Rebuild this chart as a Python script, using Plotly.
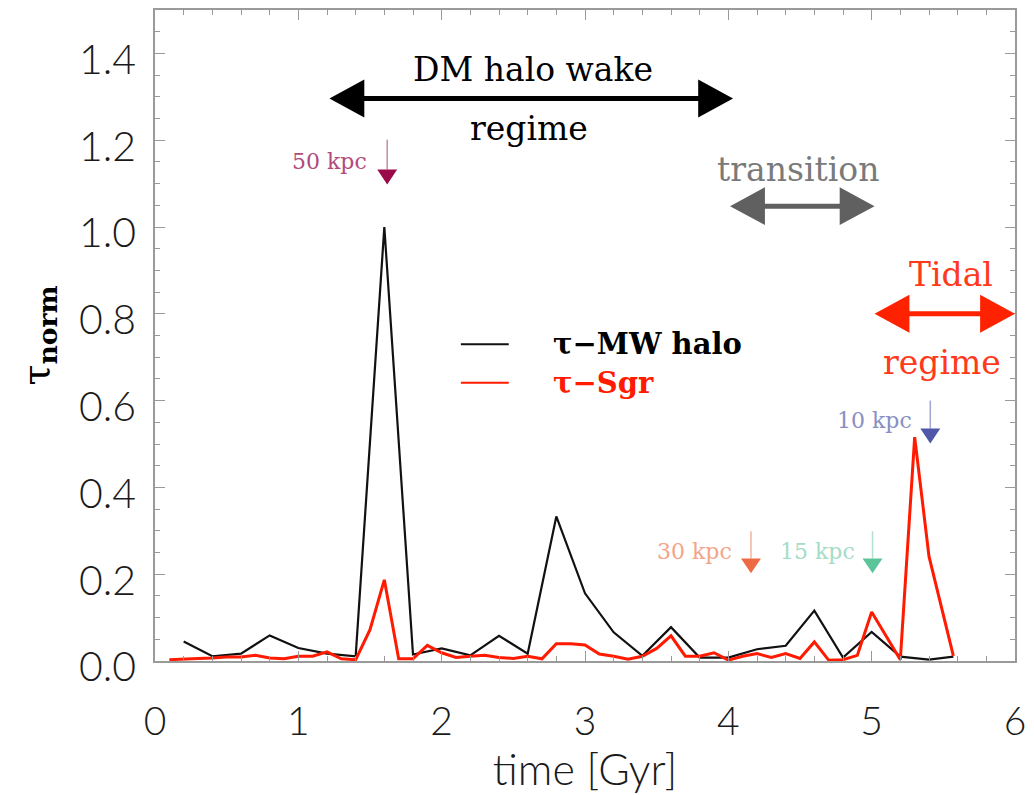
import plotly.graph_objects as go

# ---------------- data ----------------
t_mw = [0.2, 0.4, 0.6, 0.8, 1.0, 1.2, 1.4, 1.6, 1.8, 2.0, 2.2, 2.4, 2.6, 2.8,
        3.0, 3.2, 3.4, 3.6, 3.8, 4.0, 4.2, 4.4, 4.6, 4.8, 5.0, 5.2, 5.4, 5.57]
tau_mw = [0.045, 0.011, 0.017, 0.059, 0.030, 0.017, 0.011, 1.0, 0.015, 0.029,
          0.013, 0.058, 0.017, 0.333, 0.156, 0.066, 0.012, 0.078, 0.008, 0.008,
          0.027, 0.035, 0.116, 0.008, 0.067, 0.010, 0.003, 0.010]

t_sgr = [0.1, 0.2, 0.3, 0.4, 0.5, 0.6, 0.7, 0.8, 0.9, 1.0, 1.1, 1.2, 1.3, 1.4,
         1.5, 1.6, 1.7, 1.8, 1.9, 2.0, 2.1, 2.2, 2.3, 2.4, 2.5, 2.6, 2.7, 2.8,
         2.9, 3.0, 3.1, 3.2, 3.3, 3.4, 3.5, 3.6, 3.7, 3.8, 3.9, 4.0, 4.1, 4.2,
         4.3, 4.4, 4.5, 4.6, 4.7, 4.8, 4.9, 5.0, 5.2, 5.3, 5.4, 5.57]
tau_sgr = [0.003, 0.005, 0.006, 0.007, 0.009, 0.009, 0.013, 0.007, 0.005, 0.011,
           0.011, 0.021, 0.005, 0.003, 0.072, 0.187, 0.005, 0.005, 0.036, 0.019,
           0.008, 0.011, 0.013, 0.008, 0.006, 0.011, 0.005, 0.040, 0.040, 0.037,
           0.016, 0.011, 0.004, 0.011, 0.029, 0.058, 0.011, 0.011, 0.019, 0.002,
           0.011, 0.017, 0.008, 0.017, 0.006, 0.044, 0.002, 0.003, 0.013, 0.113,
           0.003, 0.516, 0.241, 0.012]

x_ticks = [0, 1, 2, 3, 4, 5, 6]
y_ticks = [0.0, 0.2, 0.4, 0.6, 0.8, 1.0, 1.2, 1.4]
y_tick_labels = ["0.0", "0.2", "0.4", "0.6", "0.8", "1.0", "1.2", "1.4"]

# regime arrows: (x_start, x_end, y, colour)
regimes = [
    (1.217, 4.033, 1.296, "#000000"),
    (4.012, 5.02, 1.048, "#606060"),
    (5.02, 6.0, 0.80, "#ff2200"),
]
regime_texts = [
    ("DM halo wake", 2.635, 1.362, "#000000"),
    ("regime", 2.607, 1.227, "#000000"),
    ("transition", 4.484, 1.133, "#7a7a7a"),
    ("Tidal", 5.555, 0.891, "#ff3a1a"),
    ("regime", 5.493, 0.687, "#ff3a1a"),
]
# distance markers: label, text x, text y, arrow x, tip y, top y, text col, stem col, head col
markers = [
    ("50 kpc", 1.217, 1.151, 1.62, 1.098, 1.201, "#b24a7c", "#c98aa6", "#9b0a48"),
    ("30 kpc", 3.761, 0.253, 4.158, 0.202, 0.299, "#f4a488", "#f3b39e", "#ee6a45"),
    ("15 kpc", 4.624, 0.253, 5.006, 0.202, 0.299, "#a6dcc6", "#b3e0cf", "#5cc49a"),
    ("10 kpc", 5.02, 0.554, 5.409, 0.501, 0.600, "#878fc4", "#a0a6d0", "#5056a8"),
]

# ---------------- layout geometry ----------------
W, H = 1034, 795
ML, MR, MT, MB = 155, 16, 8, 134
XR = (0, 6)
YR = (0, 1.5)
PX_X = (W - ML - MR) / (XR[1] - XR[0])
PX_Y = (H - MT - MB) / (YR[1] - YR[0])

fig = go.Figure()
fig.add_trace(go.Scatter(x=t_mw, y=tau_mw, mode="lines", name="τ−MW halo",
                         line=dict(color="#111111", width=2.2), showlegend=False))
fig.add_trace(go.Scatter(x=t_sgr, y=tau_sgr, mode="lines", name="τ−Sgr",
                         line=dict(color="#ff1a00", width=3), showlegend=False))

shapes = []
annots = []


def tri(p1, p2, p3, color):
    return dict(type="path", xref="x", yref="y", layer="above",
                path=f"M{p1[0]},{p1[1]} L{p2[0]},{p2[1]} L{p3[0]},{p3[1]} Z",
                fillcolor=color, line=dict(color=color, width=0))


# double-headed regime arrows
for x0, x1, y, col in regimes:
    hl = 35 / PX_X
    hh = 19 / PX_Y
    shapes.append(dict(type="line", xref="x", yref="y", layer="above",
                       x0=x0 + hl * 0.6, x1=x1 - hl * 0.6, y0=y, y1=y,
                       line=dict(color=col, width=5)))
    shapes.append(tri((x0, y), (x0 + hl, y + hh), (x0 + hl, y - hh), col))
    shapes.append(tri((x1, y), (x1 - hl, y + hh), (x1 - hl, y - hh), col))

for txt, x, y, col in regime_texts:
    annots.append(dict(text=txt, x=x, y=y, xref="x", yref="y", showarrow=False,
                       font=dict(family="DejaVu Serif", size=33, color=col)))

for lab, tx, ty, ax, tip, top, tcol, scol, hcol in markers:
    hl = 15 / PX_Y
    hw = 10 / PX_X
    shapes.append(dict(type="line", xref="x", yref="y", layer="above",
                       x0=ax, x1=ax, y0=top, y1=tip + hl,
                       line=dict(color=scol, width=1.5)))
    shapes.append(tri((ax, tip), (ax - hw, tip + hl), (ax + hw, tip + hl), hcol))
    annots.append(dict(text=lab, x=tx, y=ty, xref="x", yref="y", showarrow=False,
                       font=dict(family="DejaVu Serif", size=22, color=tcol)))

# manual legend
leg = [("τ−MW halo", 0.730, "#111111", "#000000"),
       ("τ−Sgr", 0.641, "#ff1a00", "#ff1a00")]
for txt, y, lcol, tcol in leg:
    shapes.append(dict(type="line", xref="x", yref="y", layer="above",
                       x0=2.134, x1=2.468, y0=y, y1=y,
                       line=dict(color=lcol, width=2)))
    annots.append(dict(text=f"<b>{txt}</b>", x=2.76, y=y, xref="x", yref="y",
                       xanchor="left", showarrow=False,
                       font=dict(family="DejaVu Serif", size=29, color=tcol)))

axis_common = dict(showline=True, linecolor="#9a9a9a", linewidth=1.5,
                   mirror="allticks", ticks="inside", tickcolor="#9a9a9a",
                   ticklen=10, tickwidth=1.2, showgrid=False, zeroline=False)

TICKFONT = "Lato, Liberation Sans, sans-serif"

fig.update_layout(
    width=W, height=H, margin=dict(l=ML, r=MR, t=MT, b=MB),
    plot_bgcolor="white", paper_bgcolor="white",
    shapes=shapes, annotations=annots,
    xaxis=dict(range=list(XR), tickvals=x_ticks, **axis_common,
               minor=dict(dtick=0.2, ticks="inside", ticklen=5, tickcolor="#9a9a9a"),
               tickfont=dict(family=TICKFONT, size=39, color="#1a1a1a", weight=300),
               ticklabelstandoff=25,
               title=dict(text="time [Gyr]", standoff=12,
                          font=dict(family=TICKFONT, size=43, color="#1a1a1a", weight=300))),
    yaxis=dict(range=list(YR), tickvals=y_ticks, ticktext=y_tick_labels, **axis_common,
               minor=dict(dtick=0.05, ticks="inside", ticklen=5, tickcolor="#9a9a9a"),
               tickfont=dict(family=TICKFONT, size=41, color="#1a1a1a", weight=300),
               ticklabelstandoff=9, ticklabelshift=6,
               title=dict(text="τ<sub><b>norm</b></sub>", standoff=18,
                          font=dict(family="DejaVu Serif", size=38, color="#000000"))),
)

fig.write_html("out.html")
